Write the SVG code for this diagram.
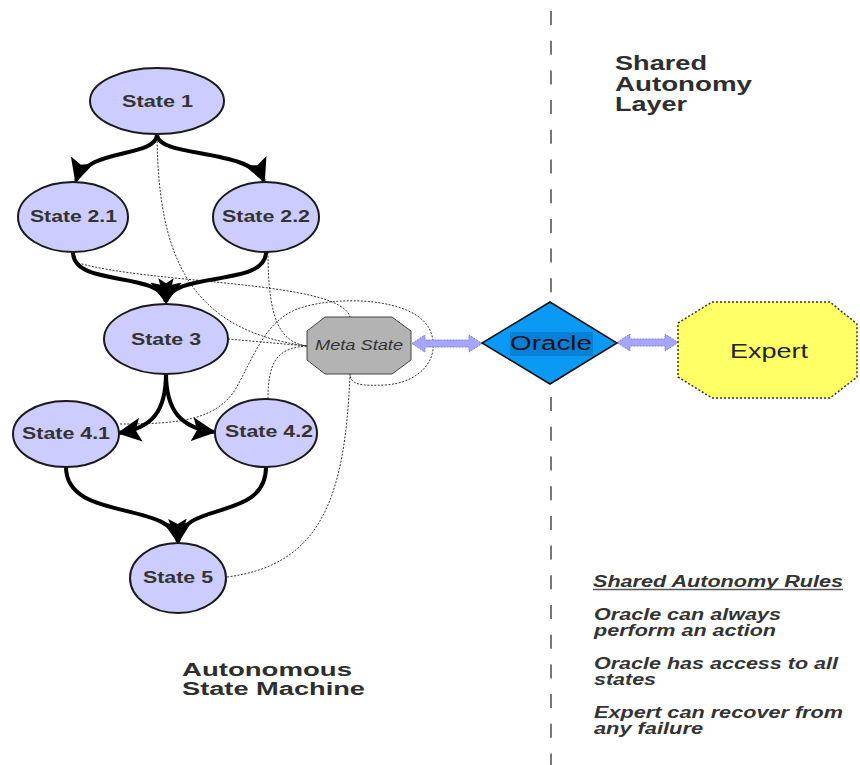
<svg xmlns="http://www.w3.org/2000/svg" width="860" height="765" viewBox="0 0 860 765">
  <style>
    .state ellipse { fill: #ccccff; stroke: #1a1a1a; stroke-width: 2; }
    .lbl { font-family: "Liberation Sans", Arial, sans-serif; font-weight: bold; font-size: 16px; fill: #333; text-anchor: middle; }
    .big { font-family: "Liberation Sans", Arial, sans-serif; font-weight: bold; font-size: 20px; fill: #2e2e2e; }
    .rule { font-family: "Liberation Sans", Arial, sans-serif; font-weight: bold; font-style: italic; font-size: 16px; fill: #333; }
    .flow { fill: none; stroke: #000; stroke-width: 4; marker-end: url(#head); }
    .link { fill: none; stroke: #333; stroke-width: 1; stroke-dasharray: 2 1.5; }
    .dbl { fill: #a6a6ff; stroke: #7a7aee; stroke-width: 1; stroke-dasharray: 2 1; }
  </style>
  <defs>
    <marker id="head" markerUnits="userSpaceOnUse" viewBox="0 0 24 24" refX="22" refY="12" markerWidth="24" markerHeight="24" orient="auto">
      <path d="M0,0 L24,12 L0,24 L5,12 z" fill="#000"/>
    </marker>
  </defs>

  <rect width="860" height="765" fill="#fff"/>

  <!-- divider between the two layers -->
  <line x1="551" y1="11" x2="551" y2="765" stroke="#555" stroke-width="1.6" stroke-dasharray="14 15.7"/>

  <!-- region captions -->
  <g id="caption-layer">
    <text class="big" x="615" y="70" textLength="92" lengthAdjust="spacingAndGlyphs">Shared</text>
    <text class="big" x="615" y="90.5" textLength="137" lengthAdjust="spacingAndGlyphs">Autonomy</text>
    <text class="big" x="615" y="111" textLength="72" lengthAdjust="spacingAndGlyphs">Layer</text>
  </g>
  <g id="caption-machine">
    <text class="big" x="182" y="676" font-size="18" style="font-size:18px" textLength="170" lengthAdjust="spacingAndGlyphs">Autonomous</text>
    <text class="big" x="182" y="695" font-size="18" style="font-size:18px" textLength="183" lengthAdjust="spacingAndGlyphs">State Machine</text>
  </g>

  <!-- connectors -->
  <g id="connectors">
    <!-- dotted links into the meta state -->
    <path class="link" d="M157,134 C158,250 185,330 307,346"/>
    <path class="link" d="M75,262 C150,285 340,280 350,317"/>
    <path class="link" d="M268,252 C268,320 280,342 307,346"/>
    <path class="link" d="M228,339 L307,346"/>
    <path class="link" d="M268,399 C268,360 278,348 307,346"/>
    <path class="link" d="M120,424 C180,424 215,420 235,390 C255,355 265,320 300,308 C340,295 415,298 430,330 C442,358 420,383 385,385 C362,386 350,385 350,374"/>
    <path class="link" d="M227,577 C320,565 345,500 350,374"/>

    <!-- state transitions -->
    <path class="flow" d="M157,135 C155,158 86,148 76,181"/>
    <path class="flow" d="M157,135 C159,158 250,148 264,181"/>
    <path class="flow" d="M73,252 C73,288 160,270 166,302"/>
    <path class="flow" d="M266,252 C266,288 172,270 166,302"/>
    <path class="flow" d="M166,373 C166,412 152,428 119,433"/>
    <path class="flow" d="M166,373 C166,412 182,428 214,432"/>
    <path class="flow" d="M66,467 C66,522 172,500 178,542"/>
    <path class="flow" d="M266,467 C266,522 182,500 178,542"/>

    <!-- two-way links to the oracle and the expert -->
    <polygon class="dbl" points="412,343.5 425,335 425,340 469,340 469,335 482,343.5 469,352 469,347 425,347 425,352"/>
    <polygon class="dbl" points="617,342.5 630,334 630,339 665,339 665,334 678,342.5 665,351 665,346 630,346 630,351"/>
  </g>

  <!-- states -->
  <g id="state-1" class="state">
    <ellipse cx="157" cy="101" rx="67" ry="33"/>
    <text class="lbl" x="157.5" y="107" textLength="71" lengthAdjust="spacingAndGlyphs">State 1</text>
  </g>
  <g id="state-2-1" class="state">
    <ellipse cx="73" cy="217" rx="55" ry="35"/>
    <text class="lbl" x="73.5" y="222" textLength="87" lengthAdjust="spacingAndGlyphs">State 2.1</text>
  </g>
  <g id="state-2-2" class="state">
    <ellipse cx="266" cy="217" rx="53" ry="35"/>
    <text class="lbl" x="266" y="222" textLength="88" lengthAdjust="spacingAndGlyphs">State 2.2</text>
  </g>
  <g id="state-3" class="state">
    <ellipse cx="166" cy="339" rx="62" ry="35"/>
    <text class="lbl" x="166" y="345" textLength="70" lengthAdjust="spacingAndGlyphs">State 3</text>
  </g>
  <g id="state-4-1" class="state">
    <ellipse cx="66" cy="434" rx="53" ry="33"/>
    <text class="lbl" x="66" y="439" textLength="88" lengthAdjust="spacingAndGlyphs">State 4.1</text>
  </g>
  <g id="state-4-2" class="state">
    <ellipse cx="266" cy="433" rx="51" ry="34"/>
    <text class="lbl" x="269" y="437" textLength="88" lengthAdjust="spacingAndGlyphs">State 4.2</text>
  </g>
  <g id="state-5" class="state">
    <ellipse cx="178" cy="578" rx="48" ry="35"/>
    <text class="lbl" x="178" y="583" textLength="70" lengthAdjust="spacingAndGlyphs">State 5</text>
  </g>

  <!-- meta state -->
  <g id="meta-state">
    <polygon points="325,317 392,317 411,331 411,360 392,374 325,374 307,360 307,331" fill="#b3b3b3" stroke="#444" stroke-width="1"/>
    <text x="359" y="350" text-anchor="middle" font-family="Liberation Sans, Arial, sans-serif" font-style="italic" font-size="14" fill="#333" textLength="88" lengthAdjust="spacingAndGlyphs">Meta State</text>
  </g>

  <!-- oracle -->
  <g id="oracle">
    <polygon points="550,302 617,343 550,384 482,343" fill="#0a9af5" stroke="#111" stroke-width="1.5"/>
    <rect x="510" y="332" width="83" height="24" fill="#0a7fd6"/>
    <text x="551" y="350" text-anchor="middle" font-family="Liberation Sans, Arial, sans-serif" font-size="20" fill="#151515" textLength="82" lengthAdjust="spacingAndGlyphs">Oracle</text>
  </g>

  <!-- expert -->
  <g id="expert">
    <polygon points="712,302 830,302 857,324 857,377 830,398 712,398 678,377 678,323" fill="#ffff66" stroke="#333" stroke-width="1.5" stroke-dasharray="2 2"/>
    <text x="769" y="358" text-anchor="middle" font-family="Liberation Sans, Arial, sans-serif" font-size="20" fill="#222" textLength="78" lengthAdjust="spacingAndGlyphs">Expert</text>
  </g>

  <!-- rules -->
  <g id="rules">
    <text class="rule" x="593" y="587" textLength="250" lengthAdjust="spacingAndGlyphs">Shared Autonomy Rules</text>
    <line x1="593" y1="589.5" x2="843" y2="589.5" stroke="#555" stroke-width="1.5"/>
    <text class="rule" x="594" y="620" textLength="187" lengthAdjust="spacingAndGlyphs">Oracle can always</text>
    <text class="rule" x="594" y="636" textLength="182" lengthAdjust="spacingAndGlyphs">perform an action</text>
    <text class="rule" x="594" y="669" textLength="244" lengthAdjust="spacingAndGlyphs">Oracle has access to all</text>
    <text class="rule" x="594" y="685" textLength="62" lengthAdjust="spacingAndGlyphs">states</text>
    <text class="rule" x="594" y="718" textLength="249" lengthAdjust="spacingAndGlyphs">Expert can recover from</text>
    <text class="rule" x="594" y="734" textLength="109" lengthAdjust="spacingAndGlyphs">any failure</text>
  </g>
</svg>
